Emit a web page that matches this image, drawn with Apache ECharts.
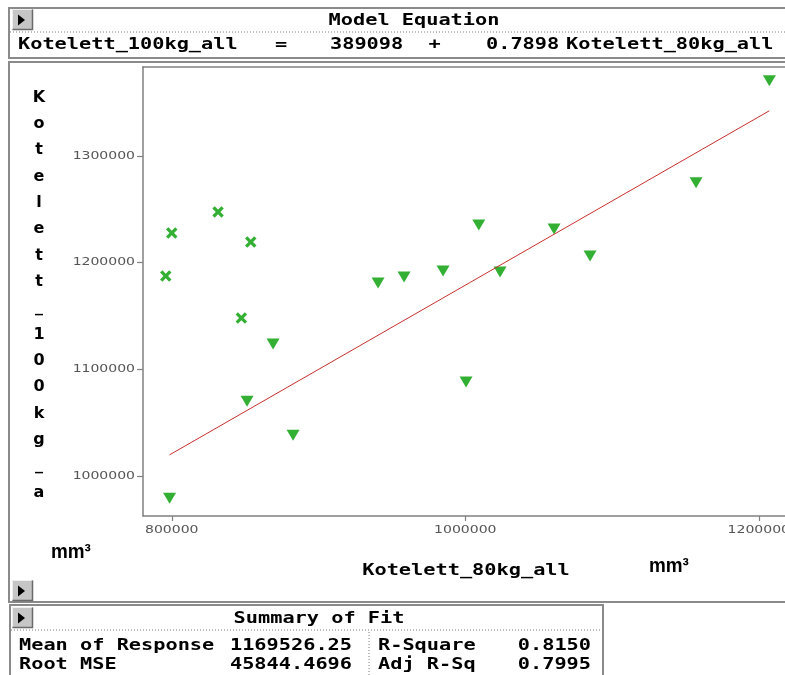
<!DOCTYPE html>
<html>
<head>
<meta charset="utf-8">
<script src="https://cdn.jsdelivr.net/npm/echarts@6/dist/echarts.min.js"></script>
<style>
  html, body { margin: 0; padding: 0; background: #ffffff; }
  #chart { width: 785px; height: 675px; }
</style>
</head>
<body>
<div id="chart"></div>
<script>
// Kotelett volume: 100 kg carcass vs 80 kg carcass (mm³), linear fit

// axis tick values
const xTicks = [800000, 1000000, 1200000];
const yTicks = [1000000, 1100000, 1200000, 1300000];

// observations used in the fit (down triangles)
const fitX = [869026, 851309, 882654, 798501, 940573, 958289, 984864, 1000536, 1009190, 1023704, 1060499, 1085030, 1157258, 1207205];
const fitY = [1123693, 1070158, 1038225, 979056, 1180984, 1186619, 1192254, 1088003, 1235457, 1191315, 1231701, 1206342, 1274904, 1370702];

// excluded observations (crosses)
const exclX = [795912, 800000, 831549, 853831, 847425];
const exclY = [1187558, 1227944, 1247667, 1219491, 1148112];

// model equation coefficients
const intercept = 389098;
const slope = 0.7898;

// summary of fit table
const summaryLabels = ['Mean of Response', 'Root MSE'];
const summaryValues = ['1169526.25', '45844.4696'];
const statLabels = ['R-Square', 'Adj R-Sq'];
const statValues = ['0.8150', '0.7995'];

const yVarName = 'Kotelett_100kg_all';
const xVarName = 'Kotelett_80kg_all';

const GREEN = '#009c00';
const FRAME = '#8a8a8a';
const AXIS = '#808080';
const MONO = '"DejaVu Sans Mono", monospace';
const MONO_SCALE = 1.267;

const chart = echarts.init(document.getElementById('chart'), null, { renderer: 'canvas' });

// plot area runs off the right edge of the window
const gridLeft = 143, gridTop = 67, gridW = 642, gridH = 449;
const xMin = 780400, xMax = 1217860;
const yMin = 962400, yMax = 1383600;

const lineLo = Math.min.apply(null, fitX);
const lineHi = Math.max.apply(null, fitX);

const crossPath = 'path://M0,2L2,0L5,3L8,0L10,2L7,5L10,8L8,10L5,7L2,10L0,8L3,5Z';

chart.setOption({
  animation: false,
  backgroundColor: '#ffffff',
  grid: {
    left: gridLeft, top: gridTop, width: gridW, height: gridH,
    show: false, containLabel: false
  },
  xAxis: {
    type: 'value', min: xMin, max: xMax,
    axisLine: { show: true, lineStyle: { color: AXIS, width: 1.5 } },
    axisTick: { show: true, length: 5, customValues: xTicks, lineStyle: { color: AXIS, width: 1.2 } },
    axisLabel: { show: false },
    splitLine: { show: false }
  },
  yAxis: {
    type: 'value', min: yMin, max: yMax,
    axisLine: { show: true, lineStyle: { color: AXIS, width: 1.5 } },
    axisTick: { show: true, length: 6, customValues: yTicks, lineStyle: { color: AXIS, width: 1.2 } },
    axisLabel: { show: false },
    splitLine: { show: false }
  },
  series: [
    {
      type: 'scatter', z: 2,
      data: fitX.map((x, i) => [x, fitY[i]]),
      symbol: 'triangle', symbolRotate: 180, symbolSize: [13, 11],
      itemStyle: { color: GREEN }
    },
    {
      type: 'scatter', z: 2,
      data: exclX.map((x, i) => [x, exclY[i]]),
      symbol: crossPath, symbolSize: 11.5,
      itemStyle: { color: GREEN }
    },
    {
      type: 'line', z: 3,
      data: [[lineLo, intercept + slope * lineLo], [lineHi, intercept + slope * lineHi]],
      showSymbol: false, symbol: 'none',
      lineStyle: { color: '#c8302c', width: 1 }
    }
  ]
});

// text helper (SAS style monospaced, widened)
function txt(text, x, y, align, opt) {
  opt = opt || {};
  return {
    type: 'text', x: x, y: y, z: 10,
    scaleX: opt.scaleX != null ? opt.scaleX : MONO_SCALE,
    silent: true,
    style: {
      text: text, x: 0, y: 0,
      align: align || 'left', verticalAlign: opt.va || 'middle',
      font: opt.font || ('bold 16px ' + MONO),
      fill: opt.fill || '#000000',
      lineHeight: opt.lineHeight
    }
  };
}

function hline(x1, x2, y, stroke, w, dash) {
  return { type: 'line', z: 5, silent: true, shape: { x1: x1, y1: y, x2: x2, y2: y },
    style: { stroke: stroke, lineWidth: w, lineDash: dash || null } };
}
function vline(x, y1, y2, stroke, w, dash) {
  return { type: 'line', z: 5, silent: true, shape: { x1: x, y1: y1, x2: x, y2: y2 },
    style: { stroke: stroke, lineWidth: w, lineDash: dash || null } };
}

// small gray push button with a black right-pointing arrow
function button(x, y) {
  return [
    { type: 'rect', z: 6, silent: true, shape: { x: x, y: y, width: 21, height: 21 }, style: { fill: '#c6c6c6' } },
    { type: 'polyline', z: 7, silent: true, shape: { points: [[x + 0.5, y + 20.5], [x + 0.5, y + 0.5], [x + 20.5, y + 0.5]] }, style: { stroke: '#f0f0f0', lineWidth: 1, fill: null } },
    { type: 'polyline', z: 7, silent: true, shape: { points: [[x + 0.5, y + 20.5], [x + 20.5, y + 20.5], [x + 20.5, y + 0.5]] }, style: { stroke: '#6a6a6a', lineWidth: 1.5, fill: null } },
    { type: 'polygon', z: 8, silent: true, shape: { points: [[x + 6, y + 5.5], [x + 6, y + 16.5], [x + 13, y + 11]] }, style: { fill: '#000000' } }
  ];
}

const els = [];

// header panel: model equation
els.push({ type: 'rect', z: 4, silent: true, shape: { x: 9, y: 8, width: 800, height: 50 }, style: { fill: null, stroke: FRAME, lineWidth: 2 } });
els.push(hline(10, 785, 32, '#7a7a7a', 1, [1, 2]));
els.push.apply(els, button(12, 9));
els.push(txt('Model Equation', 414, 21, 'center'));
els.push(txt(yVarName, 18, 45, 'left'));
els.push(txt('=', 281, 45, 'center'));
els.push(txt(String(intercept), 330, 45, 'left'));
els.push(txt('+', 434.5, 45, 'center'));
els.push(txt(slope.toFixed(4), 486, 45, 'left'));
els.push(txt(xVarName, 566, 45, 'left'));

// plot panel
els.push({ type: 'rect', z: 4, silent: true, shape: { x: 9, y: 62, width: 800, height: 540 }, style: { fill: null, stroke: FRAME, lineWidth: 2 } });
els.push.apply(els, button(12, 580));
// top edge of the plot frame
els.push(hline(gridLeft - 0.75, 785, gridTop, AXIS, 1.5));

// vertical axis title, one letter per line
els.push(txt(yVarName.slice(0, 16).split('').join('\n'), 39, 84.5, 'center', {
  scaleX: 1, va: 'top', lineHeight: 26.33, font: 'bold 16px "DejaVu Sans"'
}));
els.push(txt('mm³', 51, 552, 'left', { scaleX: 0.9, font: 'bold 21px "Liberation Sans"' }));

// horizontal axis title
els.push(txt(xVarName, 466, 571, 'center'));
els.push(txt('mm³', 649, 566, 'left', { scaleX: 0.9, font: 'bold 21px "Liberation Sans"' }));

// summary of fit table
els.push({ type: 'rect', z: 4, silent: true, shape: { x: 10, y: 605, width: 593, height: 90 }, style: { fill: null, stroke: FRAME, lineWidth: 2 } });
els.push(hline(11, 602, 630, '#7a7a7a', 1, [1, 2]));
els.push(vline(369, 632, 675, '#7a7a7a', 1, [1, 2]));
els.push.apply(els, button(12, 607));
els.push(txt('Summary of Fit', 319, 619, 'center'));
summaryLabels.forEach((s, i) => els.push(txt(s, 19, 646 + i * 19, 'left')));
summaryValues.forEach((s, i) => els.push(txt(s, 352, 646 + i * 19, 'right')));
statLabels.forEach((s, i) => els.push(txt(s, 378, 646 + i * 19, 'left')));
statValues.forEach((s, i) => els.push(txt(s, 591, 646 + i * 19, 'right')));

// tick labels placed through the axis scales
const TICK_FONT = '10px "DejaVu Sans"';
yTicks.forEach(v => {
  const py = chart.convertToPixel({ yAxisIndex: 0 }, v);
  els.push(txt(String(v), 135, py, 'right', { scaleX: 1.4, font: TICK_FONT, fill: '#555555' }));
});
xTicks.forEach(v => {
  const px = chart.convertToPixel({ xAxisIndex: 0 }, v);
  els.push(txt(String(v), px, 530, 'center', { scaleX: 1.4, font: TICK_FONT, fill: '#555555' }));
});

chart.setOption({ graphic: { elements: els } });
</script>
</body>
</html>
